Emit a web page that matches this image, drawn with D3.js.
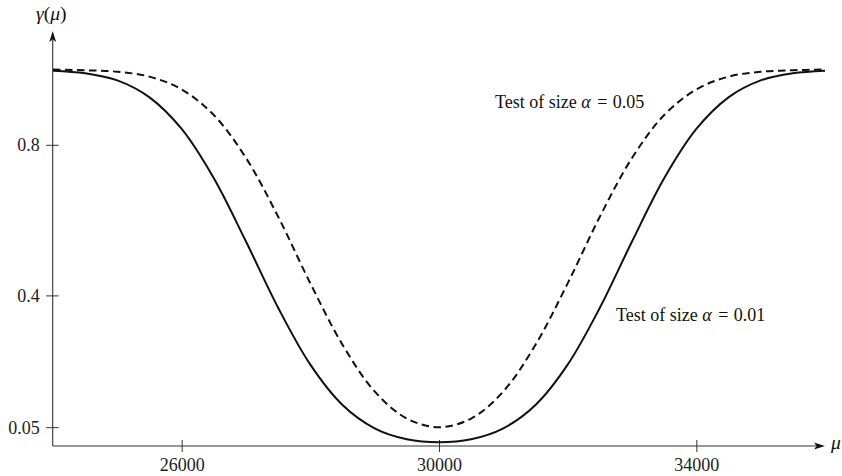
<!DOCTYPE html>
<html>
<head>
<meta charset="utf-8">
<script src="https://cdn.jsdelivr.net/npm/d3@7"></script>
<style>
  body { margin: 0; background: #fff; }
  svg { display: block; font-family: "Liberation Serif", "Times New Roman", serif; }
</style>
</head>
<body>
<svg id="chart"></svg>
<script>
const width = 842;
const height = 476;

// mean values along the x axis
const mu = [24000, 24500, 25000, 25500, 26000, 26500, 27000, 27500, 28000, 28500, 29000, 29500,
            30000, 30500, 31000, 31500, 32000, 32500, 33000, 33500, 34000, 34500, 35000, 35500, 36000];
// power of the test of size 0.01 (solid)
const power01 = [0.997, 0.990, 0.971, 0.926, 0.842, 0.711, 0.543, 0.367, 0.216, 0.109, 0.047, 0.018,
                 0.010, 0.018, 0.047, 0.109, 0.216, 0.367, 0.543, 0.711, 0.842, 0.926, 0.971, 0.990, 0.997];
// power of the test of size 0.05 (dashed)
const power05 = [1.000, 0.998, 0.994, 0.981, 0.947, 0.879, 0.765, 0.609, 0.432, 0.269, 0.145, 0.073,
                 0.050, 0.073, 0.145, 0.269, 0.432, 0.609, 0.765, 0.879, 0.947, 0.981, 0.994, 0.998, 1.000];
const xTicks = [26000, 30000, 34000];
const yTicks = [0.05, 0.4, 0.8];

const svg = d3.select("#chart")
    .attr("width", width)
    .attr("height", height)
    .attr("viewBox", [0, 0, width, height]);

const x0 = 52.7;   // y axis position
const y0 = 446;    // x axis position
const x = d3.scaleLinear().domain([24000, 36000]).range([53, 825]);
const y = d3.scaleLinear().domain([0, 1]).range([y0, 69.5]);

const axisColor = "#333";
const fontSize = 18;

// x axis
const gx = svg.append("g")
    .attr("transform", `translate(0,${y0})`)
    .call(d3.axisBottom(x).tickValues(xTicks).tickSize(6).tickFormat(d3.format("d")));
gx.select(".domain").remove();
gx.selectAll(".tick line").attr("y1", -6).attr("y2", 6).attr("stroke", axisColor);
gx.selectAll(".tick text")
    .attr("y", 25).attr("dy", 0)
    .attr("font-size", fontSize).attr("font-family", "Liberation Serif, serif")
    .attr("fill", "#222");

// y axis
const gy = svg.append("g")
    .attr("transform", `translate(${x0},0)`)
    .call(d3.axisLeft(y).tickValues(yTicks).tickSize(6).tickFormat(d => String(d)));
gy.select(".domain").remove();
gy.selectAll(".tick line").attr("x1", -6.5).attr("x2", 6).attr("stroke", axisColor);
gy.selectAll(".tick text")
    .attr("x", -13).attr("dy", "0.34em")
    .attr("font-size", fontSize).attr("font-family", "Liberation Serif, serif")
    .attr("fill", "#222");

// axis lines with arrow heads
svg.append("line")
    .attr("x1", x0).attr("x2", 816).attr("y1", y0).attr("y2", y0)
    .attr("stroke", axisColor).attr("stroke-width", 1.1);
svg.append("path")
    .attr("d", `M825,${y0} L814,${y0 - 3.4} L816.5,${y0} L814,${y0 + 3.4} Z`)
    .attr("fill", "#111");
svg.append("line")
    .attr("x1", x0).attr("x2", x0).attr("y1", y0).attr("y2", 40)
    .attr("stroke", axisColor).attr("stroke-width", 1.1);
svg.append("path")
    .attr("d", `M${x0},31 L${x0 - 3.4},42 L${x0},39.5 L${x0 + 3.4},42 Z`)
    .attr("fill", "#111");

// axis names
const yName = svg.append("text")
    .attr("x", 36).attr("y", 20)
    .attr("font-size", 19.5).attr("fill", "#111");
yName.append("tspan").attr("font-style", "italic").text("γ");
yName.append("tspan").text("(");
yName.append("tspan").attr("font-style", "italic").text("μ");
yName.append("tspan").text(")");

svg.append("text")
    .attr("x", 831).attr("y", 449)
    .attr("font-size", 19.5).attr("font-style", "italic").attr("fill", "#111")
    .text("μ");

// curves
const line = d3.line()
    .x(d => x(d[0]))
    .y(d => y(d[1]))
    .curve(d3.curveCatmullRom.alpha(0.5));

svg.append("path")
    .datum(mu.map((m, i) => [m, power05[i]]))
    .attr("fill", "none")
    .attr("stroke", "#111")
    .attr("stroke-width", 2)
    .attr("stroke-dasharray", "7.5,4.5")
    .attr("d", line);

svg.append("path")
    .datum(mu.map((m, i) => [m, power01[i]]))
    .attr("fill", "none")
    .attr("stroke", "#111")
    .attr("stroke-width", 2)
    .attr("d", line);

// curve labels
function label(px, py, a) {
  const t = svg.append("text")
      .attr("x", px).attr("y", py)
      .attr("font-size", 18).attr("fill", "#111");
  t.append("tspan").text("Test of size ");
  t.append("tspan").attr("font-style", "italic").text("α");
  t.append("tspan").attr("dx", 2).text(" = ");
  t.append("tspan").attr("dx", 1).text(a);
}
label(495, 108, "0.05");
label(616, 321, "0.01");
</script>
</body>
</html>
